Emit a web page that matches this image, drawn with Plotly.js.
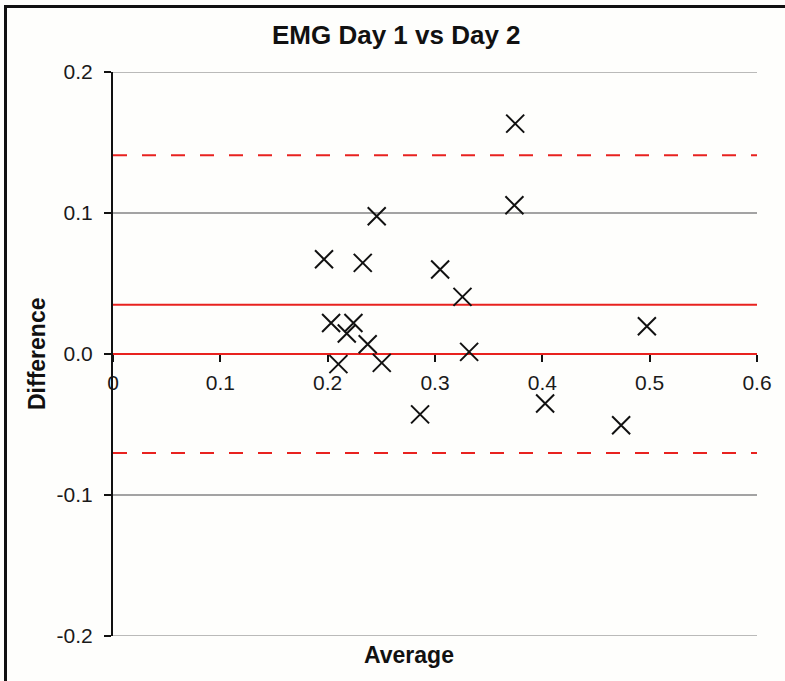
<!DOCTYPE html>
<html>
<head>
<meta charset="utf-8">
<script src="https://cdn.plot.ly/plotly-3.0.1.min.js"></script>
<style>
  html, body { margin: 0; padding: 0; background: #fefefc; }
  #chart { position: absolute; left: 0; top: 0; width: 785px; height: 681px; }
  #frame { position: absolute; left: 4px; top: 5px; width: 800px; height: 700px;
           border-top: 3px solid #111; border-left: 3px solid #111; pointer-events: none; }
</style>
</head>
<body>
<div id="chart"></div>
<div id="frame"></div>
<script>
// Bland-Altman data: average of Day 1 & Day 2 vs difference
const averages = [0.1966, 0.2032, 0.2100, 0.2178, 0.2240, 0.2327, 0.2373, 0.2457, 0.2504,
                  0.2861, 0.3048, 0.3256, 0.3318, 0.3747, 0.3740, 0.4026, 0.4734, 0.4974];
const differences = [0.0672, 0.0220, -0.0072, 0.0145, 0.0220, 0.0646, 0.0069, 0.0977, -0.0063,
                     -0.0428, 0.0599, 0.0405, 0.0015, 0.1634, 0.1055, -0.0351, -0.0505, 0.0197];
const lineX = [0, 0.6];
const meanDiff = 0.0350;
const upperLoA = 0.1410;
const lowerLoA = -0.0703;
const zeroDiff = 0;

const titleText = "EMG Day 1 vs Day 2";
const xTitle = "Average";
const yTitle = "Difference";
const xTicks = [0, 0.1, 0.2, 0.3, 0.4, 0.5, 0.6];
const yTicks = [-0.2, -0.1, 0, 0.1, 0.2];

const red = "#e8221f";
const font = "Liberation Sans, Arial, sans-serif";
const gridColor = "#a3a3a3";

function hline(yv, dash) {
  return { x: lineX, y: [yv, yv], mode: "lines", type: "scatter", hoverinfo: "skip",
           line: { color: red, width: 2, dash: dash }, showlegend: false };
}

const traces = [
  hline(zeroDiff, "solid"),
  hline(meanDiff, "solid"),
  hline(upperLoA, "14px,15px"),
  hline(lowerLoA, "14px,15px"),
  { x: averages, y: differences, mode: "markers", type: "scatter", showlegend: false,
    marker: { symbol: "x-thin", size: 18, color: "#111", line: { color: "#111", width: 2 } } }
];

// gridlines at the range edges (Plotly omits them there)
const edgeGrid = [yTicks[0], yTicks[yTicks.length - 1]].map(v => ({
  type: "line", xref: "paper", yref: "y", x0: 0, x1: 1, y0: v, y1: v,
  line: { color: gridColor, width: 1.5 }, layer: "below"
}));

const layout = {
  width: 785, height: 681,
  margin: { l: 113, r: 28, t: 72, b: 45 },
  paper_bgcolor: "#fefefc", plot_bgcolor: "#fefefc",
  font: { family: font, size: 21, color: "#1a1a1a" },
  showlegend: false,
  shapes: edgeGrid,
  xaxis: {
    range: [0, 0.6], tickvals: xTicks, ticktext: xTicks.map(v => v === 0 ? "0" : v.toFixed(1)),
    anchor: "free", position: 0.5, showgrid: false, zeroline: false,
    showline: true, linecolor: "#111", linewidth: 2, layer: "below traces",
    ticks: "outside", ticklen: 7, tickwidth: 2, tickcolor: "#111",
    tickfont: { family: font, size: 21, color: "#1a1a1a" }, ticklabelstandoff: 3
  },
  yaxis: {
    range: [-0.2, 0.2], tickvals: yTicks, ticktext: yTicks.map(v => v.toFixed(1)),
    showgrid: true, gridcolor: gridColor, gridwidth: 1.5, zeroline: false,
    showline: true, linecolor: "#111", linewidth: 2,
    ticks: "outside", ticklen: 7, tickwidth: 2, tickcolor: "#111",
    tickfont: { family: font, size: 21, color: "#1a1a1a" }, ticklabelstandoff: 7
  },
  annotations: [
    { text: "<b>" + titleText + "</b>", xref: "paper", yref: "paper", x: (396 - 113) / 644, y: 1 + (72 - 35) / 564,
      xanchor: "center", yanchor: "middle", showarrow: false, font: { family: font, size: 26, color: "#111" } },
    { text: "<b>" + xTitle + "</b>", xref: "paper", yref: "paper", x: (409 - 113) / 644, y: -(655 - 636) / 564,
      xanchor: "center", yanchor: "middle", showarrow: false, font: { family: font, size: 23, color: "#111" } },
    { text: "<b>" + yTitle + "</b>", xref: "paper", yref: "paper", x: (37 - 113) / 644, y: 0.5,
      xanchor: "center", yanchor: "middle", textangle: -90, showarrow: false, font: { family: font, size: 23, color: "#111" } }
  ]
};

Plotly.newPlot("chart", traces, layout, { displayModeBar: false, staticPlot: true });
</script>
</body>
</html>
